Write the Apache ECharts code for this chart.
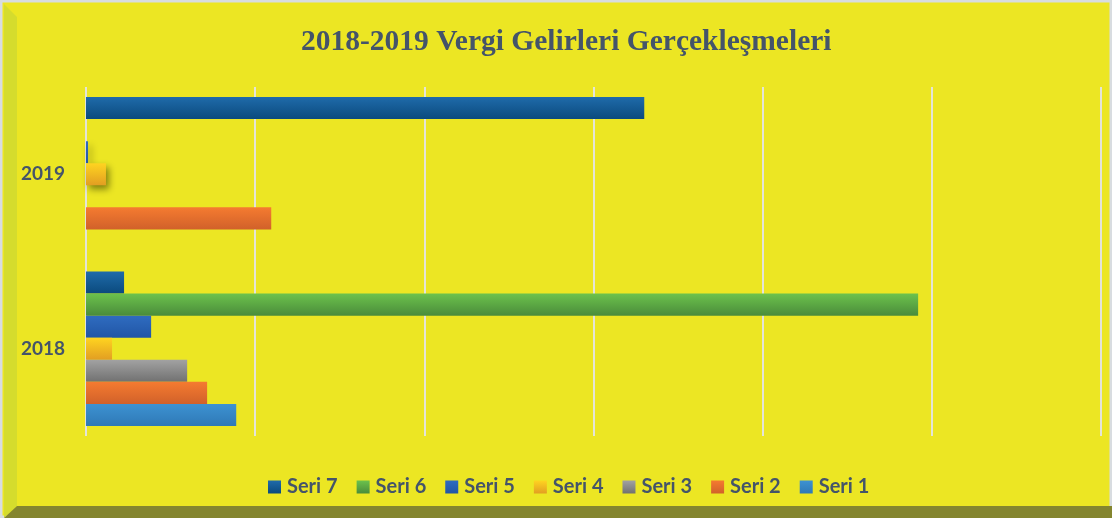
<!DOCTYPE html>
<html lang="tr">
<head>
<meta charset="UTF-8">
<title>2018-2019 Vergi Gelirleri Gerçekleşmeleri</title>
<script src="https://cdn.jsdelivr.net/npm/echarts@6/dist/echarts.min.js"></script>
<style>
  html, body { margin: 0; padding: 0; background: #fff; }
  #main { width: 1112px; height: 518px; }
</style>
</head>
<body>
<div id="main"></div>
<script>
var years = ['2018', '2019'];

// her seri: [2018, 2019]
var seri1 = [88.8, 0];
var seri2 = [71.6, 109.5];
var seri3 = [59.8, 0];
var seri4 = [15.4, 11.8];
var seri5 = [38.5, 1.2];
var seri6 = [491.9, 0];
var seri7 = [22.5, 330];

var seriesNames = ['Seri 7', 'Seri 6', 'Seri 5', 'Seri 4', 'Seri 3', 'Seri 2', 'Seri 1'];
var seriesData = [seri7, seri6, seri5, seri4, seri3, seri2, seri1];

// ust / alt renkler (gradyan)
var colors = [
    ['#1F6BAA', '#0B4A7D'],
    ['#6CC24C', '#4A8C3B'],
    ['#2F6CC0', '#2156A6'],
    ['#FFD420', '#E29E22'],
    ['#A2A2A2', '#717171'],
    ['#F57B30', '#D1612A'],
    ['#3D92D2', '#2F79B6']
];

var myChart = echarts.init(document.getElementById('main'));

var series = seriesNames.map(function (name, i) {
    return {
        name: name,
        type: 'bar',
        data: seriesData[i],
        barGap: '0%',
        barCategoryGap: '11.5%',
        itemStyle: {
            color: new echarts.graphic.LinearGradient(0, 0, 0, 1, [
                { offset: 0, color: colors[i][0] },
                { offset: 1, color: colors[i][1] }
            ]),
            shadowColor: 'rgba(60, 60, 0, 0.6)',
            shadowBlur: 7,
            shadowOffsetX: 3,
            shadowOffsetY: 4
        }
    };
});

myChart.setOption({
    backgroundColor: '#ECE623',
    color: colors.map(function (c) { return c[0]; }),
    title: {
        text: '2018-2019 Vergi Gelirleri Gerçekleşmeleri',
        left: 296,
        top: 22,
        textStyle: {
            fontFamily: 'Liberation Serif',
            fontWeight: 'bold',
            fontSize: 29.5,
            color: '#44546A'
        }
    },
    legend: {
        data: seriesNames,
        left: 263,
        top: 472,
        itemWidth: 13,
        itemHeight: 13,
        itemGap: 19,
        icon: 'rect',
        textStyle: {
            fontFamily: 'Lato',
            fontWeight: 'bold',
            fontSize: 20,
            color: '#44546A',
            padding: [0, 0, 0, 1]
        }
    },
    grid: {
        left: 86,
        right: 11,
        top: 87,
        bottom: 82,
        containLabel: false
    },
    xAxis: {
        type: 'value',
        min: 0,
        max: 600,
        interval: 100,
        axisLabel: { show: false },
        axisLine: { show: false },
        axisTick: { show: false },
        splitLine: { lineStyle: { color: '#E4E4D8', width: 2 } }
    },
    yAxis: {
        type: 'category',
        data: years,
        axisLine: { show: false },
        axisTick: { show: false },
        axisLabel: {
            margin: 21,
            fontFamily: 'Lato',
            fontWeight: 'bold',
            fontSize: 19,
            color: '#44546A'
        }
    },
    graphic: [
        // cerceve
        { type: 'rect', shape: { x: 1, y: 1, width: 1110, height: 516 }, style: { fill: 'none', stroke: '#D8DCE0', lineWidth: 3 }, silent: true },
        { type: 'polygon', shape: { points: [[4, 4], [17, 17], [17, 506], [4, 518]] }, style: { fill: '#D5DC2D' }, silent: true },
        { type: 'polygon', shape: { points: [[4, 518], [17, 506], [1112, 506], [1112, 518]] }, style: { fill: '#84852F' }, silent: true }
    ],
    series: series
});
</script>
</body>
</html>
